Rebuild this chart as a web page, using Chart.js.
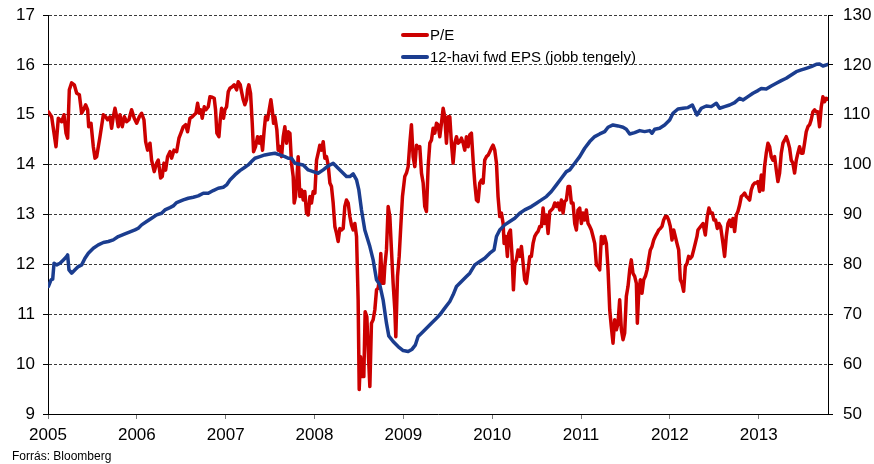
<!DOCTYPE html>
<html>
<head>
<meta charset="utf-8">
<script src="https://cdn.jsdelivr.net/npm/chart.js@4"></script>
<style>
html,body{margin:0;padding:0;background:#fff;}
canvas{display:block;}
</style>
</head>
<body>
<canvas id="c" width="874" height="464"></canvas>
<script>
// Tick labels (years) and axis ranges
const years = [2005,2006,2007,2008,2009,2010,2011,2012,2013];
const xMin = 2005, xMax = 2013.78;

// P/E series (left axis): dates as decimal years, values
const peX = [2005.004,2005.041,2005.090,2005.116,2005.154,2005.180,2005.203,2005.221,2005.240,2005.266,2005.296,2005.323,2005.353,2005.379,2005.401,2005.424,2005.446,2005.458,2005.484,2005.510,2005.529,2005.548,2005.585,2005.623,2005.649,2005.671,2005.698,2005.716,2005.735,2005.754,2005.773,2005.791,2005.810,2005.836,2005.859,2005.885,2005.911,2005.941,2005.971,2005.998,
2006.028,2006.054,2006.080,2006.099,2006.121,2006.148,2006.166,2006.196,2006.223,2006.241,2006.268,2006.286,2006.305,2006.324,2006.346,2006.373,2006.391,2006.418,2006.448,2006.474,2006.496,2006.523,2006.549,2006.571,2006.598,2006.624,2006.646,2006.665,2006.684,2006.703,2006.721,2006.736,2006.759,2006.778,2006.804,2006.823,2006.849,2006.871,2006.886,2006.901,2006.924,2006.939,2006.954,2006.976,2006.991,
2007.010,2007.029,2007.048,2007.074,2007.096,2007.123,2007.141,2007.164,2007.179,2007.198,2007.216,2007.235,2007.246,2007.261,2007.280,2007.299,2007.314,2007.336,2007.359,2007.378,2007.396,2007.415,2007.434,2007.449,2007.471,2007.490,2007.509,2007.524,2007.539,2007.554,2007.576,2007.591,2007.610,2007.629,2007.648,2007.666,2007.685,2007.704,2007.723,2007.741,2007.760,2007.771,2007.786,2007.801,2007.816,2007.835,2007.854,2007.873,2007.891,2007.910,2007.929,2007.948,2007.966,2007.985,
2008.004,2008.023,2008.041,2008.060,2008.079,2008.098,2008.116,2008.135,2008.154,2008.173,2008.191,2008.210,2008.229,2008.248,2008.266,2008.285,2008.304,2008.323,2008.341,2008.360,2008.379,2008.398,2008.416,2008.435,2008.454,2008.473,2008.491,2008.503,2008.518,2008.536,2008.555,2008.570,2008.589,2008.604,2008.623,2008.641,2008.660,2008.679,2008.698,2008.716,2008.735,2008.746,2008.761,2008.780,2008.791,2008.810,2008.829,2008.848,2008.866,2008.885,2008.904,2008.915,2008.934,2008.953,2008.971,2008.990,
2009.016,2009.035,2009.054,2009.073,2009.091,2009.110,2009.129,2009.148,2009.166,2009.185,2009.204,2009.223,2009.241,2009.260,2009.279,2009.298,2009.316,2009.335,2009.354,2009.373,2009.391,2009.410,2009.429,2009.448,2009.466,2009.485,2009.504,2009.523,2009.541,2009.560,2009.579,2009.598,2009.616,2009.635,2009.654,2009.673,2009.691,2009.710,2009.729,2009.748,2009.766,2009.785,2009.804,2009.823,2009.841,2009.860,2009.879,2009.898,2009.916,2009.935,2009.954,2009.973,2009.991,
2010.010,2010.029,2010.048,2010.066,2010.085,2010.104,2010.123,2010.134,2010.153,2010.171,2010.186,2010.205,2010.224,2010.239,2010.254,2010.273,2010.291,2010.310,2010.329,2010.348,2010.366,2010.385,2010.404,2010.423,2010.441,2010.460,2010.479,2010.498,2010.516,2010.535,2010.554,2010.573,2010.591,2010.610,2010.629,2010.648,2010.666,2010.685,2010.704,2010.723,2010.741,2010.760,2010.779,2010.798,2010.816,2010.835,2010.854,2010.873,2010.891,2010.910,2010.929,2010.948,2010.966,2010.985,
2011.004,2011.023,2011.041,2011.060,2011.079,2011.098,2011.116,2011.135,2011.154,2011.173,2011.191,2011.210,2011.229,2011.248,2011.266,2011.285,2011.304,2011.323,2011.341,2011.360,2011.379,2011.398,2011.416,2011.435,2011.454,2011.473,2011.491,2011.510,2011.529,2011.548,2011.566,2011.585,2011.604,2011.623,2011.634,2011.649,2011.668,2011.686,2011.705,2011.724,2011.743,2011.761,2011.780,2011.799,2011.818,2011.836,2011.855,2011.874,2011.893,2011.911,2011.930,2011.949,2011.968,2011.986,
2012.005,2012.024,2012.043,2012.061,2012.080,2012.099,2012.118,2012.136,2012.155,2012.174,2012.193,2012.211,2012.230,2012.249,2012.268,2012.286,2012.305,2012.316,2012.346,2012.373,2012.399,2012.421,2012.440,2012.459,2012.478,2012.496,2012.515,2012.534,2012.553,2012.571,2012.598,2012.616,2012.635,2012.654,2012.673,2012.691,2012.710,2012.729,2012.748,2012.766,2012.785,2012.804,2012.823,2012.841,2012.860,2012.879,2012.898,2012.916,2012.935,2012.954,2012.973,2012.991,
2013.010,2013.029,2013.048,2013.066,2013.085,2013.104,2013.123,2013.141,2013.160,2013.179,2013.198,2013.216,2013.235,2013.254,2013.273,2013.291,2013.310,2013.329,2013.348,2013.366,2013.385,2013.404,2013.423,2013.441,2013.460,2013.479,2013.498,2013.516,2013.535,2013.554,2013.573,2013.591,2013.610,2013.629,2013.648,2013.666,2013.685,2013.704,2013.723,2013.741,2013.760,2013.779];
const peY = [15.06,14.96,14.36,14.93,14.86,15.00,14.63,14.53,15.50,15.64,15.60,15.43,15.40,15.03,15.10,15.20,15.10,14.76,14.83,14.36,14.13,14.16,14.56,15.00,14.96,14.90,14.96,14.73,14.96,15.13,14.96,14.76,15.00,14.76,14.96,14.86,14.90,15.10,14.93,14.83,
14.96,15.03,14.90,14.46,14.29,14.43,14.09,13.86,14.03,14.09,13.73,13.76,14.03,13.89,14.16,14.26,14.13,14.29,14.26,14.53,14.63,14.76,14.80,14.66,14.93,14.96,15.00,15.03,15.23,15.03,15.10,14.93,15.16,15.10,15.16,15.36,15.35,15.33,15.10,14.63,14.56,14.90,15.13,14.93,15.10,
15.16,15.46,15.53,15.56,15.60,15.50,15.66,15.60,15.46,15.30,15.20,15.30,15.50,15.60,15.43,14.83,14.26,14.36,14.56,14.43,14.56,14.29,14.70,14.96,14.90,15.10,15.30,15.10,14.83,14.96,14.70,14.29,14.36,14.16,14.56,14.76,14.43,14.66,14.63,14.03,13.76,13.23,13.36,13.69,14.16,13.36,13.49,13.29,13.46,13.03,12.99,13.36,13.23,13.46,
13.43,14.09,14.23,14.39,14.29,14.46,14.13,14.16,13.99,13.63,13.56,13.23,12.76,12.62,12.46,12.72,12.69,12.72,13.16,13.29,13.23,12.96,12.79,12.69,12.82,12.56,11.29,9.49,10.15,9.75,9.75,11.05,10.95,10.29,9.55,10.82,10.89,11.09,11.49,11.52,11.76,12.22,11.62,11.62,11.96,12.29,13.16,12.96,12.29,11.62,11.09,10.55,11.76,12.16,12.76,13.36,
13.76,13.83,13.96,14.43,14.80,14.16,13.96,14.39,14.33,14.36,13.83,13.63,13.16,13.06,13.96,14.43,14.49,14.73,14.63,14.83,14.80,14.56,14.83,15.13,14.96,14.43,14.96,14.96,14.43,14.03,14.43,14.56,14.43,14.46,14.53,14.43,14.29,14.56,14.36,14.60,14.63,14.09,13.63,13.29,13.26,13.63,13.69,13.63,14.09,14.16,14.19,14.26,14.33,
14.39,14.29,14.03,13.36,12.96,13.03,12.82,12.42,12.56,12.16,12.62,12.69,12.16,11.49,12.02,12.09,12.29,12.16,12.36,12.02,11.69,11.62,11.89,12.16,12.16,12.42,12.56,12.62,12.66,12.76,12.76,13.13,12.82,12.99,12.62,13.06,13.09,13.13,13.23,13.16,13.23,13.09,13.29,13.03,13.26,13.29,13.56,13.56,13.23,13.23,12.82,12.69,13.09,13.13,
12.82,13.03,12.89,13.09,12.82,12.76,12.69,12.56,12.42,11.99,11.96,11.89,12.56,12.42,12.56,12.42,11.89,11.09,10.75,10.42,10.89,10.69,10.82,11.29,10.69,10.49,10.62,11.36,11.56,11.89,12.09,11.82,11.76,11.62,10.82,11.42,11.69,11.42,11.69,11.76,11.89,12.09,12.29,12.36,12.49,12.56,12.62,12.69,12.72,12.76,12.89,12.96,12.96,12.89,
12.76,12.49,12.69,12.56,12.42,12.29,11.69,11.62,11.46,11.96,12.02,12.16,12.12,12.16,12.29,12.42,12.56,12.69,12.76,12.82,12.59,12.96,13.13,13.03,13.03,12.89,12.89,12.72,12.82,12.76,12.42,12.16,12.56,12.82,12.89,12.76,12.92,12.66,12.99,13.06,13.19,13.36,13.39,13.43,13.36,13.33,13.29,13.49,13.59,13.63,13.63,13.66,
13.46,13.79,13.49,13.96,14.23,14.43,14.36,14.16,14.09,14.16,13.89,13.66,13.83,14.23,14.43,14.49,14.56,14.46,14.33,14.09,14.03,13.83,14.09,14.23,14.36,14.23,14.23,14.43,14.66,14.76,14.80,14.90,15.06,15.10,15.06,15.06,14.76,15.16,15.36,15.26,15.33,15.31];

// 12-month forward EPS series (right axis)
const epsX = [2005.004,2005.034,2005.053,2005.068,2005.098,2005.135,2005.173,2005.210,2005.221,2005.236,2005.266,2005.304,2005.341,2005.379,2005.416,2005.454,2005.510,2005.566,2005.623,2005.679,2005.735,2005.791,2005.866,2005.923,2005.979,
2006.016,2006.054,2006.110,2006.166,2006.223,2006.279,2006.316,2006.373,2006.410,2006.448,2006.523,2006.579,2006.635,2006.691,2006.748,2006.804,2006.860,2006.916,2006.973,
2007.010,2007.048,2007.104,2007.160,2007.216,2007.254,2007.291,2007.329,2007.385,2007.441,2007.498,2007.554,2007.610,2007.666,2007.704,2007.741,2007.779,2007.816,2007.873,2007.929,2007.985,
2008.041,2008.098,2008.154,2008.210,2008.266,2008.323,2008.360,2008.398,2008.435,2008.473,2008.499,2008.529,2008.566,2008.623,2008.660,2008.698,2008.735,2008.772,2008.810,2008.836,2008.885,2008.941,2008.998,
2009.054,2009.099,2009.136,2009.166,2009.204,2009.260,2009.316,2009.373,2009.410,2009.466,2009.523,2009.560,2009.598,2009.654,2009.710,2009.748,2009.804,2009.860,2009.916,2009.973,
2010.021,2010.048,2010.085,2010.141,2010.198,2010.254,2010.310,2010.366,2010.441,2010.498,2010.554,2010.610,2010.666,2010.723,2010.779,2010.835,2010.873,2010.929,2010.985,
2011.041,2011.098,2011.154,2011.210,2011.266,2011.304,2011.360,2011.416,2011.473,2011.510,2011.548,2011.604,2011.660,2011.716,2011.773,2011.799,2011.829,2011.885,2011.941,2011.998,
2012.035,2012.091,2012.148,2012.204,2012.253,2012.279,2012.305,2012.354,2012.410,2012.466,2012.523,2012.560,2012.616,2012.673,2012.729,2012.785,2012.823,2012.879,2012.935,2012.991,
2013.029,2013.085,2013.141,2013.198,2013.254,2013.310,2013.366,2013.423,2013.479,2013.535,2013.591,2013.648,2013.685,2013.723,2013.779];
const epsY = [75.56,76.89,77.03,80.23,79.90,80.23,80.90,81.57,81.90,78.90,78.23,78.90,79.56,79.90,81.23,82.24,83.24,83.91,84.38,84.58,84.91,85.58,86.11,86.51,86.91,
87.25,87.92,88.58,89.25,89.92,90.25,90.92,91.38,91.72,92.39,92.93,93.26,93.46,93.73,94.26,94.26,94.80,95.26,95.46,
95.93,96.93,97.94,98.80,99.47,99.94,100.61,101.28,101.61,101.94,102.14,102.28,101.94,101.61,101.28,101.28,100.27,100.14,99.94,98.94,98.60,
98.27,98.94,99.74,100.27,99.27,98.27,97.60,97.60,98.14,96.93,94.93,90.92,86.91,83.57,80.90,76.89,75.89,72.89,68.21,65.67,64.54,63.53,62.73,
62.53,63.00,63.87,65.54,66.21,67.21,68.21,69.21,69.88,71.22,72.55,73.89,75.56,76.56,77.56,78.23,79.90,80.57,81.23,82.24,
82.91,85.58,86.91,87.92,88.58,89.25,90.25,90.92,91.59,92.26,92.93,93.59,94.60,95.93,97.27,98.60,98.94,100.27,101.61,
103.28,104.62,105.62,106.15,106.62,107.49,107.96,107.76,107.49,107.09,106.15,106.42,106.82,106.62,106.82,106.29,107.09,107.29,107.96,108.96,
110.29,111.16,111.30,111.43,111.96,110.96,109.96,111.30,111.76,111.63,112.30,111.30,111.63,111.96,112.43,113.30,112.97,113.63,114.30,114.84,
115.24,115.17,115.77,116.31,116.84,117.31,117.98,118.64,118.98,119.31,119.65,120.11,120.18,119.78,120.11];

const seriesNames = ['P/E', '12-havi fwd EPS (jobb tengely)'];
const sourceNote = 'Forrás: Bloomberg';

const RED = '#cc0000';
const BLUE = '#1b3d8f';
const FONT = '"Liberation Sans", Arial, sans-serif';

const toPts = (xs, ys) => xs.map((x, i) => ({x: x, y: ys[i]}));

const overlay = {
  id: 'overlay',
  afterDraw(chart) {
    const ctx = chart.ctx;
    ctx.save();
    // legend inside the plot
    const items = [{c: RED, t: seriesNames[0]}, {c: BLUE, t: seriesNames[1]}];
    items.forEach((it, i) => {
      const y = 35 + i * 22;
      ctx.strokeStyle = it.c;
      ctx.lineWidth = 4;
      ctx.lineCap = 'round';
      ctx.beginPath();
      ctx.moveTo(403, y);
      ctx.lineTo(427, y);
      ctx.stroke();
      ctx.fillStyle = '#000';
      ctx.font = '15px ' + FONT;
      ctx.textBaseline = 'middle';
      ctx.textAlign = 'left';
      ctx.fillText(it.t, 430, y + 1);
    });
    // source note
    ctx.font = '12px ' + FONT;
    ctx.textBaseline = 'alphabetic';
    ctx.fillText(sourceNote, 12, 460);
    ctx.restore();
  }
};

const noPad = s => { s.paddingTop = 0; s.paddingBottom = 0; s.paddingLeft = 0; s.paddingRight = 0; };

new Chart(document.getElementById('c'), {
  type: 'line',
  data: {
    datasets: [
      {label: seriesNames[0], data: toPts(peX, peY), yAxisID: 'y', borderColor: RED, backgroundColor: RED,
       borderWidth: 3.5, pointRadius: 0, tension: 0, order: 1, borderJoinStyle: 'round', borderCapStyle: 'round'},
      {label: seriesNames[1], data: toPts(epsX, epsY), yAxisID: 'y1', borderColor: BLUE, backgroundColor: BLUE,
       borderWidth: 3.5, pointRadius: 0, tension: 0, order: 0, borderJoinStyle: 'round', borderCapStyle: 'round'}
    ]
  },
  options: {
    responsive: false,
    animation: false,
    devicePixelRatio: 1,
    layout: {padding: {top: 15, left: 0, right: 0, bottom: 0}},
    plugins: {legend: {display: false}, tooltip: {enabled: false}},
    scales: {
      x: {
        type: 'linear', position: 'bottom', min: xMin, max: xMax,
        afterBuildTicks: s => { s.ticks = years.map(v => ({value: v})); },
        afterFit: s => { s.height = 50; noPad(s); },
        grid: {drawOnChartArea: false, drawTicks: true, tickLength: 5, tickColor: '#777', tickWidth: 1},
        border: {display: true, color: '#000', width: 1},
        ticks: {color: '#000', font: {family: FONT, size: 17}, padding: 6, maxRotation: 0, autoSkip: false,
                callback: v => String(v)}
      },
      y: {
        type: 'linear', position: 'left', min: 9, max: 17,
        afterFit: s => { s.width = 48; noPad(s); },
        ticks: {stepSize: 1, color: '#000', font: {family: FONT, size: 17}, padding: 8},
        grid: {color: c => (c.tick && c.tick.value === 9) ? 'rgba(0,0,0,0)' : '#3a3a3a', lineWidth: 1,
               tickLength: 5, tickColor: '#000'},
        border: {display: true, color: '#000', width: 1, dash: [3, 2]}
      },
      y1: {
        type: 'linear', position: 'right', min: 50, max: 130,
        afterFit: s => { s.width = 46; noPad(s); },
        ticks: {stepSize: 10, color: '#000', font: {family: FONT, size: 17}, padding: 10},
        grid: {drawOnChartArea: false, tickLength: 5, tickColor: '#000'},
        border: {display: true, color: '#000', width: 1}
      }
    }
  },
  plugins: [overlay]
});
</script>
</body>
</html>
